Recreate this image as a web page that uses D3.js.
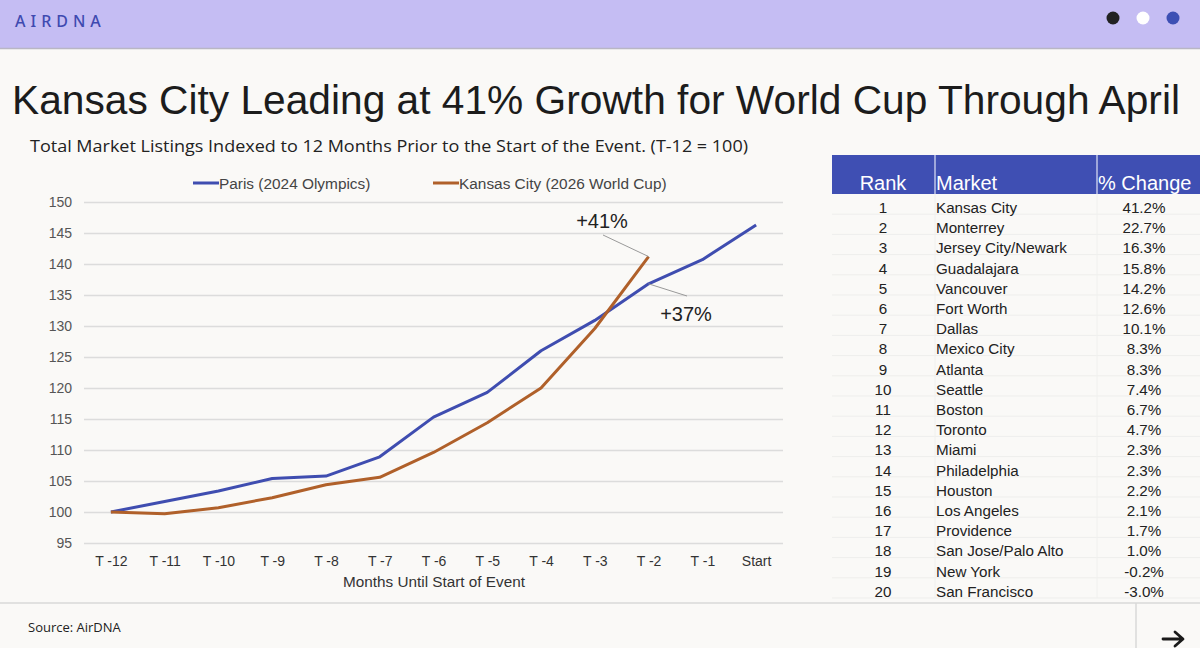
<!DOCTYPE html>
<meta charset="utf-8">
<script src="https://d3js.org/d3.v7.min.js"></script>
<style>
  body { margin: 0; background: #faf9f7; }
  svg { display: block; }
</style>
<div id="my_dataviz"></div>
<script>
// chart data
const months = ["T -12", "T -11", "T -10", "T -9", "T -8", "T -7", "T -6", "T -5", "T -4", "T -3", "T -2", "T -1", "Start"];
const parisValues = [100, 101.7, 103.4, 105.4, 105.8, 108.9, 115.3, 119.3, 126.0, 130.9, 136.8, 140.7, 146.3];
const kansasValues = [100, 99.7, 100.7, 102.3, 104.4, 105.6, 109.6, 114.4, 120.0, 129.6, 141.2];
const seriesNames = ["Paris (2024 Olympics)", "Kansas City (2026 World Cup)"];
const yTicks = [95, 100, 105, 110, 115, 120, 125, 130, 135, 140, 145, 150];

// ranking table
const ranks = [1, 2, 3, 4, 5, 6, 7, 8, 9, 10, 11, 12, 13, 14, 15, 16, 17, 18, 19, 20];
const markets = ["Kansas City", "Monterrey", "Jersey City/Newark", "Guadalajara", "Vancouver", "Fort Worth", "Dallas", "Mexico City", "Atlanta", "Seattle", "Boston", "Toronto", "Miami", "Philadelphia", "Houston", "Los Angeles", "Providence", "San Jose/Palo Alto", "New York", "San Francisco"];
const pctChange = [41.2, 22.7, 16.3, 15.8, 14.2, 12.6, 10.1, 8.3, 8.3, 7.4, 6.7, 4.7, 2.3, 2.3, 2.2, 2.1, 1.7, 1.0, -0.2, -3.0];

const W = 1200, H = 648;
const blue = "#3f4db0", orange = "#b0602a";

const svg = d3.select("#my_dataviz").append("svg")
  .attr("width", W).attr("height", H)
  .style("font-family", "'Liberation Sans', Arial, sans-serif");

svg.append("rect").attr("width", W).attr("height", H).attr("fill", "#faf9f7");

// header bar
svg.append("rect").attr("width", W).attr("height", 48).attr("fill", "#c5bdf3");
svg.append("line").attr("x1", 0).attr("x2", W).attr("y1", 48.5).attr("y2", 48.5)
  .attr("stroke", "#b9b6c4").attr("stroke-width", 1.5);
svg.append("text").attr("x", 15).attr("y", 27)
  .attr("font-family", "'Noto Sans', sans-serif").attr("font-size", 16)
  .attr("letter-spacing", 5).attr("fill", "#3f4ab0").attr("font-weight", 500)
  .text("AIRDNA");
const dotColors = ["#222222", "#ffffff", "#3d4fb4"];
svg.selectAll(".hdot").data(dotColors).join("circle")
  .attr("cx", (d, i) => 1113 + i * 30).attr("cy", 18).attr("r", 6.5)
  .attr("fill", d => d);

// titles
svg.append("text").attr("x", 12).attr("y", 114)
  .attr("font-size", 41).attr("fill", "#1c1c1c")
  .attr("textLength", 1168).attr("lengthAdjust", "spacingAndGlyphs")
  .text("Kansas City Leading at 41% Growth for World Cup Through April");
svg.append("text").attr("x", 30).attr("y", 152)
  .attr("font-family", "'Open Sans', sans-serif").attr("font-size", 16.5).attr("fill", "#222")
  .attr("textLength", 718).attr("lengthAdjust", "spacingAndGlyphs")
  .text("Total Market Listings Indexed to 12 Months Prior to the Start of the Event. (T-12 = 100)");

// scales
const x = d3.scalePoint().domain(months).range([84, 783]).padding(0.5);
const y = d3.scaleLinear().domain([95, 150]).range([543, 202]);

// gridlines + y axis
const yAxis = svg.append("g").attr("transform", "translate(84,0)")
  .call(d3.axisLeft(y).tickValues(yTicks).tickSize(-699).tickPadding(12));
yAxis.select(".domain").remove();
yAxis.selectAll(".tick line").attr("stroke", "#dcdcdc").attr("stroke-width", 1.3);
yAxis.selectAll(".tick text").attr("font-size", 14).attr("fill", "#555")
  .attr("font-family", "'Liberation Sans', Arial, sans-serif");

// x axis
const xAxis = svg.append("g").attr("transform", "translate(0,543)")
  .call(d3.axisBottom(x).tickSize(0).tickPadding(13));
xAxis.select(".domain").remove();
xAxis.selectAll(".tick text").attr("font-size", 14).attr("fill", "#333")
  .attr("font-family", "'Liberation Sans', Arial, sans-serif");
svg.append("text").attr("x", 434).attr("y", 587).attr("text-anchor", "middle")
  .attr("font-size", 15.3).attr("fill", "#333").text("Months Until Start of Event");

// lines
const line = d3.line().x((d, i) => x(months[i])).y(d => y(d));
svg.append("path").datum(parisValues).attr("d", line)
  .attr("fill", "none").attr("stroke", blue).attr("stroke-width", 3).attr("stroke-linejoin", "round");
svg.append("path").datum(kansasValues).attr("d", line)
  .attr("fill", "none").attr("stroke", orange).attr("stroke-width", 3).attr("stroke-linejoin", "round");

// legend
const legend = svg.append("g").selectAll("g").data(seriesNames).join("g")
  .attr("transform", (d, i) => `translate(${i === 0 ? 193 : 433},183)`);
legend.append("line").attr("x1", 0).attr("x2", 26).attr("y1", 0).attr("y2", 0)
  .attr("stroke", (d, i) => i === 0 ? blue : orange).attr("stroke-width", 3);
legend.append("text").attr("x", 26).attr("y", 5.5).attr("font-size", 15.4).attr("fill", "#444")
  .text(d => d);

// annotations
const kLast = kansasValues.length - 1;
svg.append("line")
  .attr("x1", 603).attr("y1", 235)
  .attr("x2", x(months[kLast])).attr("y2", y(kansasValues[kLast]))
  .attr("stroke", "#999").attr("stroke-width", 1);
svg.append("text").attr("x", 602).attr("y", 228).attr("text-anchor", "middle")
  .attr("font-size", 20).attr("fill", "#222").text("+41%");
svg.append("line")
  .attr("x1", x(months[10])).attr("y1", y(parisValues[10]))
  .attr("x2", 687).attr("y2", 296)
  .attr("stroke", "#999").attr("stroke-width", 1);
svg.append("text").attr("x", 686).attr("y", 321).attr("text-anchor", "middle")
  .attr("font-size", 20).attr("fill", "#222").text("+37%");

// table
const tX0 = 832, tX1 = 935, tX2 = 1097, tTop = 155, tHead = 194, rowH = 20.2;
svg.append("rect").attr("x", tX0).attr("y", tTop).attr("width", W - tX0).attr("height", tHead - tTop)
  .attr("fill", "#3f4fb3");
[tX1, tX2].forEach(cx => {
  svg.append("line").attr("x1", cx).attr("x2", cx).attr("y1", tTop).attr("y2", tHead)
    .attr("stroke", "#dfe3f5").attr("stroke-width", 1.2);
});
const th = svg.append("g").attr("fill", "#fff").attr("font-size", 20);
th.append("text").attr("x", 883).attr("y", 190).attr("text-anchor", "middle").text("Rank");
th.append("text").attr("x", tX1 + 1).attr("y", 190).text("Market");
th.append("text").attr("x", tX2 + 1).attr("y", 190).text("% Change");

const rows = svg.append("g").selectAll("g").data(ranks).join("g")
  .attr("transform", (d, i) => `translate(0,${tHead + i * rowH})`);
rows.append("line").attr("x1", tX0).attr("x2", W).attr("y1", rowH).attr("y2", rowH)
  .attr("stroke", "#eeeeec").attr("stroke-width", 1);
rows.append("text").attr("x", 883).attr("y", 19).attr("text-anchor", "middle")
  .attr("font-size", 15.2).attr("fill", "#222").text(d => d);
rows.append("text").attr("x", tX1 + 1).attr("y", 19)
  .attr("font-size", 15.2).attr("fill", "#222").text((d, i) => markets[i]);
rows.append("text").attr("x", 1144).attr("y", 19).attr("text-anchor", "middle")
  .attr("font-size", 15.2).attr("fill", "#222").text((d, i) => pctChange[i].toFixed(1) + "%");
[tX1, tX2].forEach(cx => {
  svg.append("line").attr("x1", cx).attr("x2", cx).attr("y1", tHead).attr("y2", tHead + 20 * rowH)
    .attr("stroke", "#f0f0ee").attr("stroke-width", 1);
});

// footer
svg.append("line").attr("x1", 0).attr("x2", W).attr("y1", 603).attr("y2", 603)
  .attr("stroke", "#d8d8d8").attr("stroke-width", 1.5);
svg.append("line").attr("x1", 1136).attr("x2", 1136).attr("y1", 603).attr("y2", H)
  .attr("stroke", "#d8d8d8").attr("stroke-width", 1.5);
svg.append("text").attr("x", 28).attr("y", 632)
  .attr("font-family", "'Open Sans', sans-serif").attr("font-size", 13).attr("fill", "#222")
  .text("Source: AirDNA");
// next-slide arrow icon
svg.append("path")
  .attr("d", "M1163,639 H1182 M1175,632 L1183,639 L1175,646")
  .attr("fill", "none").attr("stroke", "#1a1a1a").attr("stroke-width", 2.8)
  .attr("stroke-linecap", "round").attr("stroke-linejoin", "round");
</script>
